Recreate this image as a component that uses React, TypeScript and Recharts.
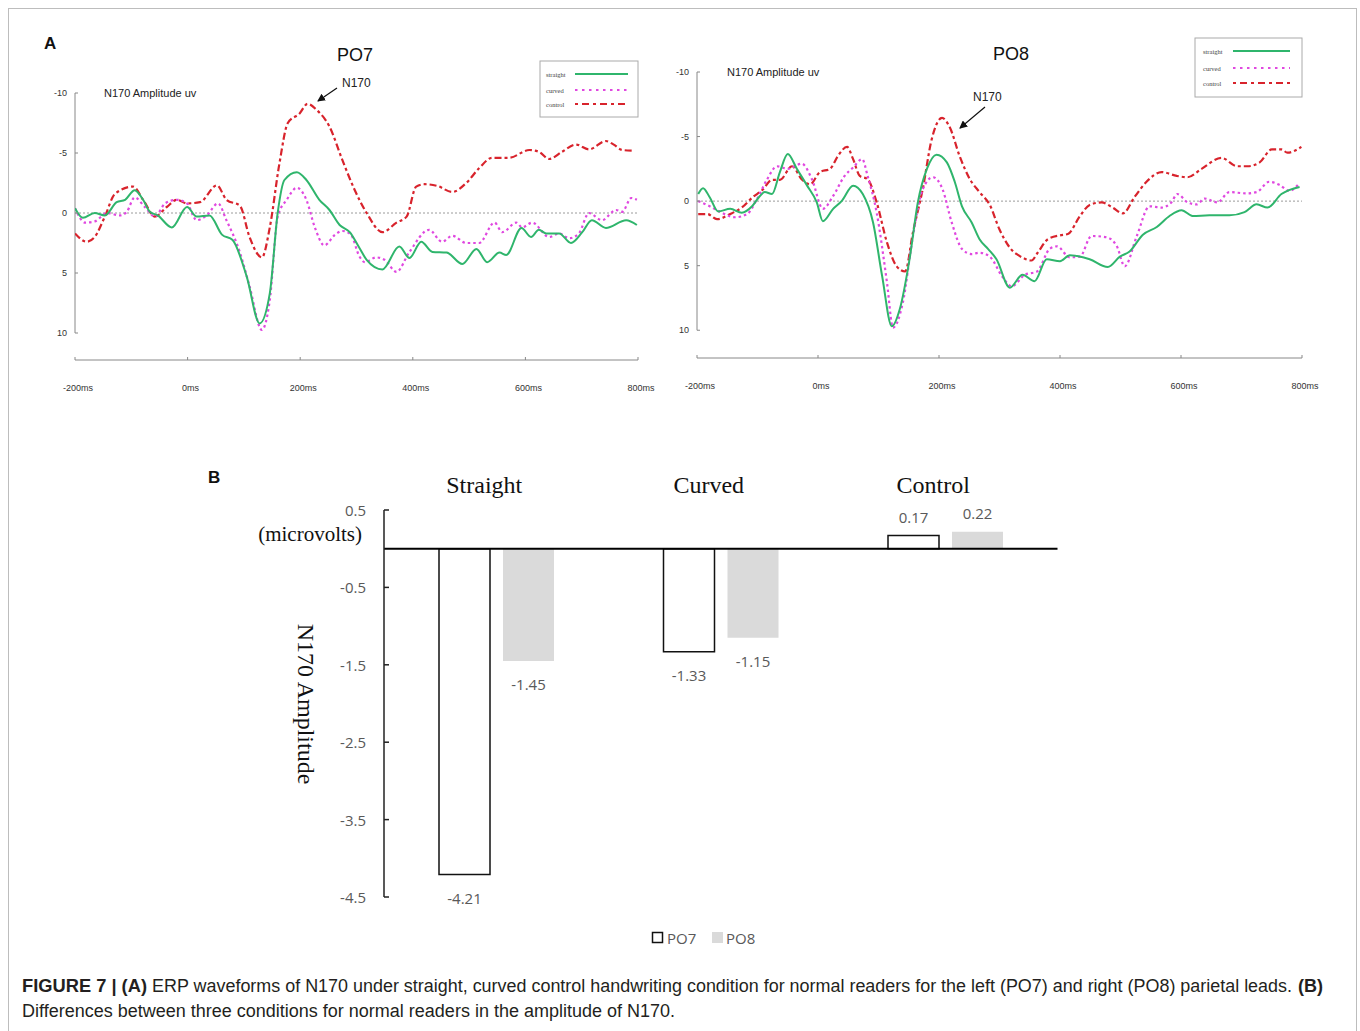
import React from 'react';
import { LineChart, Line, XAxis, YAxis, ReferenceLine, BarChart, Bar, LabelList } from 'recharts';

// ---------- Panel A data (time in ms, amplitude in uV) ----------
const TIME_TICKS = [-200, 0, 200, 400, 600, 800];
const ERP_TICKS = [-10, -5, 0, 5, 10];

const PO7_STRAIGHT: [number, number][] = [
  [-200, -0.4], [-186, 0.4], [-165, 0], [-147, 0.2], [-126, -0.9], [-111, -1.1], [-94, -1.9], [-79, -1.1], [-67, -0.1], [-53, 0.2], [-28, 1.2], [-1, -0.5], [16, 0.3], [39, 0.2], [61, 1.8], [80, 2.25], [105, 5.3], [128, 9.2], [146, 6.7], [160, 0], [172, -2.75], [194, -3.4], [211, -2.75], [234, -1.1], [252, -0.25], [270, 1.0], [288, 1.6], [305, 2.9], [318, 3.9], [346, 4.7], [376, 2.8], [394, 3.75], [415, 2.4], [435, 3.25], [460, 3.3], [488, 4.25], [513, 3.0], [532, 4.1], [554, 3.3], [566, 3.5], [593, 1.25], [610, 2.0], [624, 1.4], [637, 1.7], [660, 1.7], [681, 2.5], [701, 1.6], [718, 0.6], [743, 1.25], [779, 0.6], [798, 1.0],
];
const PO7_CURVED: [number, number][] = [
  [-200, -0.4], [-182, 0.8], [-165, 0.7], [-143, 0], [-120, 0.2], [-108, -0.1], [-94, -1.3], [-76, -0.5], [-58, 0.3], [-40, -0.8], [-19, -1.1], [-1, -0.8], [16, 0.6], [34, 0.2], [54, -0.8], [69, 0.6], [93, 3.3], [110, 6.1], [132, 9.75], [146, 7.25], [160, 0.3], [176, -1.1], [194, -2.1], [211, -1.1], [226, 1.2], [243, 2.7], [262, 1.8], [275, 1.5], [290, 1.8], [305, 3.6], [315, 4.1], [335, 3.7], [350, 3.9], [371, 4.9], [394, 3.25], [429, 1.4], [452, 2.4], [470, 1.9], [495, 2.5], [518, 2.5], [545, 0.8], [559, 1.6], [584, 0.8], [594, 1.2], [612, 0.8], [642, 2.0], [660, 1.7], [678, 2.1], [695, 1.7], [713, 0], [736, 0.6], [761, -0.25], [772, -0.1], [788, -1.25], [798, -1.1],
];
const PO7_CONTROL: [number, number][] = [
  [-200, 1.7], [-179, 2.4], [-165, 2.0], [-147, 0.3], [-129, -1.6], [-97, -2.2], [-79, -1.1], [-58, 0.3], [-37, -0.5], [-19, -1.1], [-1, -0.8], [22, -0.9], [52, -2.3], [69, -1.1], [93, -0.6], [110, 2.0], [132, 3.7], [146, 1.2], [163, -4.1], [178, -7.5], [199, -8.3], [213, -9.1], [229, -8.6], [252, -7.2], [275, -4.4], [296, -2.0], [318, 0], [346, 1.6], [371, 0.8], [389, 0.3], [406, -2.2], [421, -2.4], [444, -2.25], [470, -1.75], [495, -2.5], [518, -3.75], [541, -4.6], [571, -4.6], [607, -5.25], [624, -5.1], [642, -4.5], [665, -5.1], [690, -5.7], [713, -5.3], [743, -6.0], [757, -5.7], [772, -5.25], [789, -5.2],
];

const PO8_STRAIGHT: [number, number][] = [
  [-198, -0.55], [-190, -1.0], [-179, -0.3], [-165, 0.8], [-145, 0.6], [-126, 0.9], [-109, 0.4], [-96, -0.4], [-88, -0.7], [-76, -0.55], [-63, -2.25], [-50, -3.65], [-35, -2.5], [-18, -1.2], [-2, 0.1], [8, 1.55], [25, 0.6], [39, 0], [58, -1.2], [74, -0.55], [91, 1.65], [106, 5.8], [122, 9.7], [135, 8.4], [152, 4.3], [165, 0.1], [180, -2.5], [196, -3.6], [213, -3.0], [226, -1.5], [238, 0.4], [254, 1.65], [267, 2.95], [281, 3.7], [295, 4.5], [317, 6.7], [338, 5.7], [358, 6.2], [378, 4.5], [400, 4.65], [416, 4.2], [449, 4.5], [479, 5.1], [499, 4.3], [515, 3.9], [537, 2.6], [560, 2.0], [581, 1.15], [601, 0.7], [619, 1.15], [647, 1.1], [680, 1.1], [705, 0.85], [725, 0.25], [743, 0.5], [766, -0.55], [796, -1.1],
];
const PO8_CURVED: [number, number][] = [
  [-198, 0], [-179, 0.4], [-159, 0.9], [-137, 1.25], [-117, 1.0], [-101, -0.15], [-84, -1.7], [-68, -2.7], [-50, -2.5], [-27, -2.9], [-10, -1.7], [8, 0.6], [25, -0.4], [44, -1.95], [58, -2.6], [73, -3.25], [82, -1.95], [97, 0.9], [114, 6.3], [124, 9.8], [140, 7.9], [157, 2.7], [173, -0.9], [190, -1.85], [206, -0.9], [221, 1.65], [238, 3.7], [254, 4.1], [267, 4.0], [284, 4.3], [304, 5.8], [320, 6.6], [342, 5.7], [362, 5.45], [383, 3.7], [395, 3.5], [416, 4.35], [433, 4.3], [452, 2.7], [477, 2.8], [494, 3.5], [507, 5.05], [527, 2.7], [548, 0.4], [568, 0.5], [584, 0.1], [594, -0.55], [611, 0.1], [626, 0.25], [639, -0.2], [660, 0.1], [680, -0.7], [708, -0.6], [725, -0.7], [746, -1.5], [763, -1.25], [779, -0.8], [796, -1.4],
];
const PO8_CONTROL: [number, number][] = [
  [-198, 1.0], [-183, 1.0], [-167, 1.4], [-145, 1.0], [-126, 0.5], [-108, -0.3], [-91, -0.9], [-76, -1.65], [-63, -1.65], [-43, -2.7], [-27, -1.7], [-13, -1.3], [3, -2.25], [20, -2.5], [33, -3.5], [48, -4.2], [58, -3.25], [69, -1.95], [82, -1.7], [97, 0.1], [114, 3.2], [130, 5.05], [144, 5.45], [157, 2.4], [173, -0.9], [188, -4.8], [205, -6.45], [218, -5.7], [234, -3.5], [251, -1.7], [267, -0.7], [284, 0.3], [300, 2.2], [317, 3.6], [337, 4.35], [353, 4.6], [363, 4.0], [380, 2.95], [400, 2.65], [413, 2.55], [433, 1.15], [449, 0.3], [469, 0.1], [487, 0.5], [504, 0.95], [523, -0.3], [543, -1.5], [568, -2.25], [593, -1.95], [611, -1.85], [634, -2.5], [667, -3.35], [693, -2.7], [710, -2.7], [730, -3.0], [750, -4.0], [766, -4.0], [776, -3.75], [799, -4.2],
];

const SERIES_NAMES = ['straight', 'curved', 'control'];

// ---------- Panel B data ----------
const CONDITIONS = ['Straight', 'Curved', 'Control'];
const PO7_AMP = [-4.21, -1.33, 0.17];
const PO8_AMP = [-1.45, -1.15, 0.22];
const B_TICKS = [0.5, -0.5, -1.5, -2.5, -3.5, -4.5];
const B_SERIES = ['PO7', 'PO8'];

// ---------- styles ----------
const GREEN = '#2fb56c';
const MAGENTA = '#e048e0';
const RED = '#d8232c';
const SANS = '"Liberation Sans", Arial, sans-serif';
const SERIF = '"Liberation Serif", "Times New Roman", serif';
const CAL = '"Open Sans", "Noto Sans", sans-serif';

const toPts = (arr: [number, number][]) => arr.map(([t, v]) => ({ t, v }));

const ErpYTick = (props: any) => {
  const { x, y, payload } = props;
  return (
    <g>
      <text x={x} y={y} textAnchor="end" dominantBaseline="central" fontSize={9} fontFamily={SANS} fill="#333">
        {payload.value}
      </text>
      <line x1={x + 8} x2={x + 11} y1={y} y2={y} stroke="#888" strokeWidth={1} />
    </g>
  );
};

const ErpXTick = (props: any) => {
  const { x, y, payload } = props;
  return (
    <g>
      <line x1={x} x2={x} y1={y - 3} y2={y} stroke="#888" strokeWidth={1} />
      <text x={x + 3} y={y + 28} textAnchor="middle" dominantBaseline="central" fontSize={9} fontFamily={SANS} fill="#333">
        {`${payload.value}ms`}
      </text>
    </g>
  );
};

type ErpProps = {
  left: number; top: number; width: number; height: number;
  margin: { top: number; right: number; bottom: number; left: number };
  yMax: number;
  straight: [number, number][]; curved: [number, number][]; control: [number, number][];
};

const ErpChart = ({ left, top, width, height, margin, yMax, straight, curved, control }: ErpProps) => (
  <div style={{ position: 'absolute', left, top }}>
    <LineChart width={width} height={height} margin={margin}>
      <XAxis
        dataKey="t" type="number" domain={[-200, 800]} ticks={TIME_TICKS} allowDataOverflow
        height={40} axisLine={{ stroke: '#888', strokeWidth: 1 }} tickLine={false} tickSize={0} tickMargin={0}
        tick={<ErpXTick />} interval={0}
      />
      <YAxis
        type="number" domain={[-10, yMax]} ticks={ERP_TICKS} reversed allowDataOverflow
        width={40} axisLine={false} tickLine={false} tickSize={0} tickMargin={8} tick={<ErpYTick />} interval={0}
      />
      <ReferenceLine y={0} stroke="#9a9a9a" strokeWidth={1} strokeDasharray="2 2" />
      <ReferenceLine segment={[{ x: -200, y: -10 }, { x: -200, y: 10 }]} stroke="#888" strokeWidth={1} />
      <Line data={toPts(control)} dataKey="v" name={SERIES_NAMES[2]} type="monotone" stroke={RED} strokeWidth={2.2} strokeDasharray="7 3 3 3" dot={false} isAnimationActive={false} />
      <Line data={toPts(curved)} dataKey="v" name={SERIES_NAMES[1]} type="monotone" stroke={MAGENTA} strokeWidth={2.2} strokeDasharray="2.5 3" dot={false} isAnimationActive={false} />
      <Line data={toPts(straight)} dataKey="v" name={SERIES_NAMES[0]} type="monotone" stroke={GREEN} strokeWidth={2} dot={false} isAnimationActive={false} />
    </LineChart>
  </div>
);

const BYTick = (props: any) => {
  const { x, y, payload } = props;
  return (
    <g>
      <text x={x} y={y} textAnchor="end" dominantBaseline="central" fontSize={15} fontFamily={CAL} fill="#595959">
        {payload.value}
      </text>
      <line x1={x + 18} x2={x + 23} y1={y} y2={y} stroke="#222" strokeWidth={1.5} />
    </g>
  );
};

const BXTick = (props: any) => {
  const { x, y, payload } = props;
  return (
    <text x={x - 12} y={y} textAnchor="middle" fontSize={24} fontFamily={SERIF} fill="#111">
      {payload.value}
    </text>
  );
};

const ValueLabel = (props: any) => {
  const { x, y, width, height, value } = props;
  const top = Math.min(y, y + height);
  const bottom = Math.max(y, y + height);
  const cx = x + width / 2;
  const ly = value < 0 ? bottom + 23 : top - 19;
  return (
    <text x={cx} y={ly} textAnchor="middle" dominantBaseline="central" fontSize={15} fontFamily={CAL} fill="#595959">
      {value.toFixed(2)}
    </text>
  );
};

const barData = CONDITIONS.map((c, i) => ({ cond: c, PO7: PO7_AMP[i], PO8: PO8_AMP[i] }));

const LegendA = ({ x, y, w, h, tx, lx1, lx2, ys }: any) => (
  <g>
    <rect x={x} y={y} width={w} height={h} fill="#fff" stroke="#aaa" strokeWidth={1} />
    {SERIES_NAMES.map((n, i) => (
      <g key={n}>
        <text x={tx} y={ys[i]} dominantBaseline="central" fontSize={6.5} fontFamily={SERIF} fill="#444">{n}</text>
        <line x1={lx1} x2={lx2} y1={ys[i]} y2={ys[i]}
          stroke={[GREEN, MAGENTA, RED][i]} strokeWidth={2}
          strokeDasharray={[undefined, '2.5 4.5', '3 4 7 4'][i] as any} />
      </g>
    ))}
  </g>
);

export default function App() {
  return (
    <div style={{ position: 'absolute', left: 0, top: 0, width: 1360, height: 1031, background: '#fff', overflow: 'hidden' }}>
      <ErpChart left={20} top={40} width={650} height={370}
        margin={{ top: 53, right: 32, bottom: 10, left: 15 }} yMax={12.25}
        straight={PO7_STRAIGHT} curved={PO7_CURVED} control={PO7_CONTROL} />
      <ErpChart left={640} top={20} width={700} height={390}
        margin={{ top: 52, right: 38, bottom: 12, left: 17 }} yMax={12.15}
        straight={PO8_STRAIGHT} curved={PO8_CURVED} control={PO8_CONTROL} />

      <div style={{ position: 'absolute', left: 200, top: 440 }}>
        <BarChart width={900} height={500} data={barData} margin={{ top: 40, right: 42.5, bottom: 43, left: 124 }}
          barSize={51} barGap={13}>
          <XAxis dataKey="cond" orientation="top" height={30} axisLine={false} tickLine={false} tickSize={0} tickMargin={17} tick={<BXTick />} interval={0} />
          <YAxis type="number" domain={[-4.5, 0.5]} ticks={B_TICKS} width={60} allowDataOverflow
            axisLine={{ stroke: '#222', strokeWidth: 1.5 }} tickLine={false} tickSize={0} tickMargin={18} tick={<BYTick />} interval={0} />
          <Bar dataKey={B_SERIES[0]} fill="#ffffff" stroke="#111" strokeWidth={1.5} isAnimationActive={false}>
            <LabelList dataKey={B_SERIES[0]} content={<ValueLabel />} />
          </Bar>
          <Bar dataKey={B_SERIES[1]} fill="#dadada" isAnimationActive={false}>
            <LabelList dataKey={B_SERIES[1]} content={<ValueLabel />} />
          </Bar>
          <ReferenceLine y={0} stroke="#000" strokeWidth={2} />
        </BarChart>
      </div>

      <svg width={1360} height={1031} style={{ position: 'absolute', left: 0, top: 0, pointerEvents: 'none' }}>
        <defs>
          <marker id="arr" markerWidth="8" markerHeight="8" refX="7" refY="4" orient="auto" markerUnits="userSpaceOnUse">
            <path d="M0,0 L8,4 L0,8 z" fill="#111" />
          </marker>
        </defs>
        <rect x={8.5} y={8.5} width={1348} height={1050} fill="none" stroke="#bdbdbd" strokeWidth={1} />
        <text x={44} y={43} dominantBaseline="central" fontSize={17} fontWeight="bold" fontFamily={SANS} fill="#111">A</text>
        <text x={355} y={55} textAnchor="middle" dominantBaseline="central" fontSize={18} fontFamily={SANS} fill="#111">PO7</text>
        <text x={1011} y={54} textAnchor="middle" dominantBaseline="central" fontSize={18} fontFamily={SANS} fill="#111">PO8</text>
        <text x={104} y={93} dominantBaseline="central" fontSize={11} fontFamily={SANS} fill="#222">N170 Amplitude uv</text>
        <text x={727} y={72} dominantBaseline="central" fontSize={11} fontFamily={SANS} fill="#222">N170 Amplitude uv</text>
        <text x={342} y={83} dominantBaseline="central" fontSize={12} fontFamily={SANS} fill="#222">N170</text>
        <line x1={337} y1={88} x2={318} y2={101} stroke="#111" strokeWidth={1.2} markerEnd="url(#arr)" />
        <text x={973} y={97} dominantBaseline="central" fontSize={12} fontFamily={SANS} fill="#222">N170</text>
        <line x1={985} y1={107} x2={960} y2={128} stroke="#111" strokeWidth={1.2} markerEnd="url(#arr)" />
        <LegendA x={540} y={61} w={98} h={56} tx={546} lx1={575} lx2={628} ys={[74, 90, 104]} />
        <LegendA x={1195} y={38} w={107} h={59} tx={1203} lx1={1233} lx2={1290} ys={[51, 68, 83]} />

        <text x={208} y={477} dominantBaseline="central" fontSize={17} fontWeight="bold" fontFamily={SANS} fill="#111">B</text>
        <text x={362} y={534} textAnchor="end" dominantBaseline="central" fontSize={21} fontFamily={SERIF} fill="#111">(microvolts)</text>
        <text transform="translate(306,704) rotate(90)" textAnchor="middle" dominantBaseline="central" fontSize={24} fontFamily={SERIF} fill="#111">N170 Amplitude</text>
        <rect x={652.5} y={932.5} width={10} height={10} fill="#fff" stroke="#111" strokeWidth={1.5} />
        <text x={667} y={938} dominantBaseline="central" fontSize={15} fontFamily={CAL} fill="#595959">{B_SERIES[0]}</text>
        <rect x={712} y={932} width={11} height={11} fill="#dadada" />
        <text x={726} y={938} dominantBaseline="central" fontSize={15} fontFamily={CAL} fill="#595959">{B_SERIES[1]}</text>

        <text x={22} y={992} fontSize={18} fontWeight="bold" fontFamily={SANS} fill="#231f20" textLength={125} lengthAdjust="spacingAndGlyphs">FIGURE 7 | (A)</text>
        <text x={152} y={992} fontSize={17.5} fontFamily={SANS} fill="#231f20" textLength={1140} lengthAdjust="spacingAndGlyphs">ERP waveforms of N170 under straight, curved control handwriting condition for normal readers for the left (PO7) and right (PO8) parietal leads.</text>
        <text x={1298} y={992} fontSize={18} fontWeight="bold" fontFamily={SANS} fill="#231f20" textLength={25} lengthAdjust="spacingAndGlyphs">(B)</text>
        <text x={22} y={1017} fontSize={18} fontFamily={SANS} fill="#231f20" textLength={653} lengthAdjust="spacingAndGlyphs">Differences between three conditions for normal readers in the amplitude of N170.</text>
      </svg>
    </div>
  );
}
